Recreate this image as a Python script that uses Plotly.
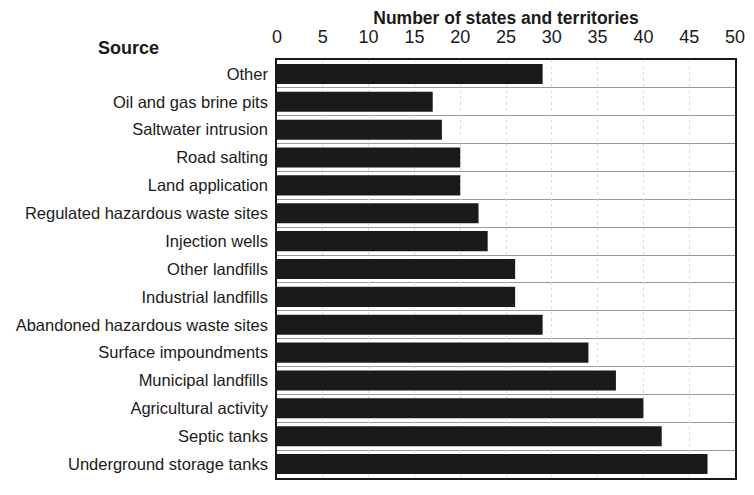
import plotly.graph_objects as go

categories = [
    "Other",
    "Oil and gas brine pits",
    "Saltwater intrusion",
    "Road salting",
    "Land application",
    "Regulated hazardous waste sites",
    "Injection wells",
    "Other landfills",
    "Industrial landfills",
    "Abandoned hazardous waste sites",
    "Surface impoundments",
    "Municipal landfills",
    "Agricultural activity",
    "Septic tanks",
    "Underground storage tanks",
]
values = [29, 17, 18, 20, 20, 22, 23, 26, 26, 29, 34, 37, 40, 42, 47]
x_ticks = [0, 5, 10, 15, 20, 25, 30, 35, 40, 45, 50]

positions = list(range(len(categories)))
separators = [p + 0.5 for p in positions[:-1]]

FONT = "Liberation Sans, Arial, Helvetica, sans-serif"

fig = go.Figure(
    go.Bar(
        x=values,
        y=positions,
        orientation="h",
        width=0.72,
        marker=dict(color="#1a1a1a", line=dict(width=0)),
        hoverinfo="x+text",
        text=categories,
        textposition="none",
    )
)

fig.update_layout(
    width=746,
    height=487,
    margin=dict(l=269, r=19, t=52, b=17),
    paper_bgcolor="white",
    plot_bgcolor="white",
    showlegend=False,
    font=dict(family=FONT, color="#1a1a1a"),
    xaxis=dict(
        side="top",
        range=[0, 50],
        automargin=False,
        tickvals=x_ticks,
        ticktext=[str(t) for t in x_ticks],
        tickfont=dict(size=18, color="#1a1a1a"),
        ticks="",
        ticklabelstandoff=8,
        showgrid=True,
        gridcolor="#dddddd",
        griddash="dot",
        gridwidth=1,
        zeroline=False,
        showline=True,
        linecolor="#1a1a1a",
        linewidth=1.5,
        mirror=True,
        title=dict(
            text="<b>Number of states and territories</b>",
            font=dict(size=17.5, color="#1a1a1a"),
            standoff=0,
        ),
    ),
    yaxis=dict(
        range=[len(categories) - 0.5, -0.5],
        automargin=False,
        tickvals=positions,
        ticktext=categories,
        tickfont=dict(size=16.5, color="#1a1a1a"),
        ticks="",
        ticklabelstandoff=4,
        showgrid=False,
        zeroline=False,
        showline=True,
        linecolor="#1a1a1a",
        linewidth=1.5,
        mirror=True,
        minor=dict(
            tickvals=separators,
            showgrid=True,
            gridcolor="#9a9a9a",
            gridwidth=1,
            ticks="",
        ),
    ),
    annotations=[
        dict(
            text="<b>Source</b>",
            xref="paper",
            yref="paper",
            x=-0.325,
            y=1.0,
            xanchor="center",
            yanchor="bottom",
            showarrow=False,
            font=dict(size=18, color="#1a1a1a", family=FONT),
        )
    ],
)

fig.write_html("out.html")
